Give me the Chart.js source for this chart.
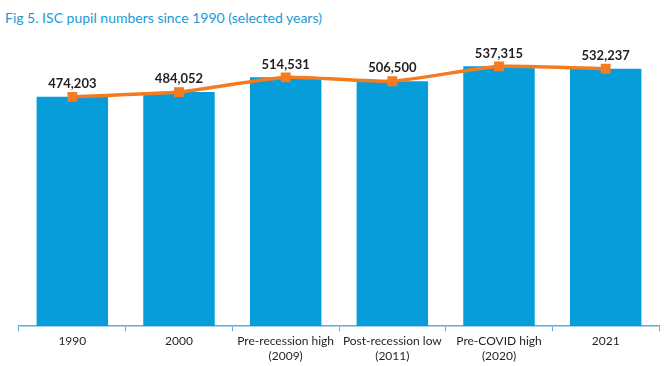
<!DOCTYPE html>
<html>
<head>
<meta charset="utf-8">
<script src="https://cdn.jsdelivr.net/npm/chart.js@4/dist/chart.umd.min.js"></script>
<style>
  body { margin: 0; background: #fff; }
  #wrap { position: relative; width: 672px; height: 366px; }
  #title {
    position: absolute; left: 5px; top: 9px;
    font: 14px Lato, sans-serif; color: #1b9ad6;
  }
  canvas { position: absolute; left: 0; top: 0; }
</style>
</head>
<body>
<div id="wrap">
  <div id="title">Fig 5. ISC pupil numbers since 1990 (selected years)</div>
  <canvas id="pupilChart" width="672" height="366"></canvas>
</div>
<script>
const categories = ['1990', '2000', ['Pre-recession high', '(2009)'], ['Post-recession low', '(2011)'], ['Pre-COVID high', '(2020)'], '2021'];
const pupils = [474203, 484052, 514531, 506500, 537315, 532237];

document.addEventListener('DOMContentLoaded', () => {
  const ctx = document.getElementById('pupilChart').getContext('2d');

  // value labels above each point
  const valueLabels = {
    id: 'valueLabels',
    afterDatasetsDraw(chart) {
      const meta = chart.getDatasetMeta(1);
      const c = chart.ctx;
      c.save();
      c.font = 'bold 13px Lato, sans-serif';
      c.fillStyle = '#231f20';
      c.textAlign = 'center';
      c.textBaseline = 'middle';
      meta.data.forEach((pt, i) => {
        c.fillText(pupils[i].toLocaleString('en-GB'), pt.x, pt.y - 13);
      });
      c.restore();
    }
  };

  new Chart(ctx, {
    type: 'bar',
    data: {
      labels: categories,
      datasets: [
        {
          type: 'line',
          data: pupils,
          borderColor: '#f47b20',
          backgroundColor: '#f47b20',
          borderWidth: 3.5,
          pointStyle: 'rect',
          pointRadius: 4.5,
          tension: 0.15,
          order: 0
        },
        {
          type: 'bar',
          data: pupils,
          backgroundColor: '#079ddb',
          categoryPercentage: 0.67,
          barPercentage: 1,
          order: 1
        }
      ]
    },
    options: {
      responsive: false,
      animation: false,
      layout: { padding: { left: 19, right: 13, top: 36, bottom: 0 } },
      plugins: {
        legend: { display: false },
        tooltip: { enabled: false }
      },
      scales: {
        x: {
          grid: {
            offset: true,
            drawOnChartArea: false,
            color: '#5aaedc',
            tickLength: 5
          },
          border: { color: '#5aaedc', width: 1.5 },
          ticks: {
            color: '#231f20',
            font: { family: 'Lato, sans-serif', size: 12 },
            padding: 3,
            maxRotation: 0
          }
        },
        y: {
          display: false,
          min: 0,
          max: 600000
        }
      }
    },
    plugins: [valueLabels]
  });
});
</script>
</body>
</html>
